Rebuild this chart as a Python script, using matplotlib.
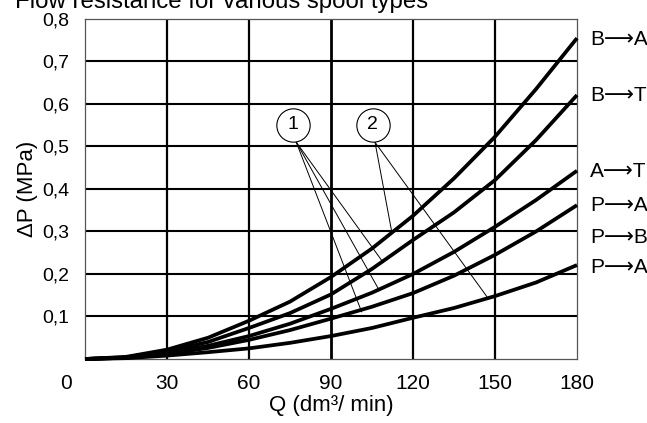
import numpy as np
import matplotlib
matplotlib.use('Agg')
import matplotlib.pyplot as plt
from matplotlib.transforms import ScaledTranslation

plt.rcParams['font.family'] = ['Liberation Sans', 'DejaVu Sans']

# flow (dm3/min) and pressure drop (MPa)
q = [0, 15, 30, 45, 60, 75, 90, 105, 120, 135, 150, 165, 180]
dp_b_a = [0, 0.005, 0.022, 0.05, 0.09, 0.135, 0.193, 0.26, 0.337, 0.425, 0.523, 0.635, 0.755]
dp_b_t = [0, 0.004, 0.018, 0.04, 0.073, 0.108, 0.152, 0.212, 0.28, 0.345, 0.421, 0.515, 0.621]
dp_a_t = [0, 0.003, 0.014, 0.031, 0.054, 0.083, 0.118, 0.156, 0.2, 0.252, 0.311, 0.374, 0.443]
dp_p_ab = [0, 0.003, 0.012, 0.026, 0.045, 0.068, 0.095, 0.123, 0.155, 0.196, 0.245, 0.3, 0.362]
dp_p_a = [0, 0.002, 0.008, 0.016, 0.025, 0.038, 0.054, 0.073, 0.097, 0.12, 0.148, 0.18, 0.221]
curves = [dp_b_a, dp_b_t, dp_a_t, dp_p_ab, dp_p_a]

# labels at the right edge and the pressure they sit at
side_labels = ['B⟶A', 'B⟶T', 'A⟶T', 'P⟶A', 'P⟶B', 'P⟶A']
side_label_p = [0.751, 0.619, 0.44, 0.362, 0.286, 0.215]

xticks = [0, 30, 60, 90, 120, 150, 180]
yticks = [0.1, 0.2, 0.3, 0.4, 0.5, 0.6, 0.7, 0.8]
ytick_labels = ['0,1', '0,2', '0,3', '0,4', '0,5', '0,6', '0,7', '0,8']

# callout bubbles: (label, centre q, centre p, start of leaders, leader ends)
callouts = [
    ('1', 76.0, 0.551, (77.3, 0.51), [(109.1, 0.227), (107.7, 0.161), (101.2, 0.111)]),
    ('2', 105.3, 0.551, (106.1, 0.51), [(112.2, 0.300), (147.0, 0.147)]),
]

fig = plt.figure(figsize=(6.47, 4.23), dpi=100)
ax = fig.add_axes([0.1314, 0.1513, 0.7604, 0.8038])
ax.set_xlim(0, 180)
ax.set_ylim(0, 0.8)

for v in yticks[:-1]:
    ax.axhline(v, color='black', lw=1.5, zorder=1)
for v in xticks[1:-1]:
    ax.axvline(v, color='black', lw=1.6 if v != 90 else 2.0, zorder=1)

for s in ax.spines.values():
    s.set_linewidth(0.9)
    s.set_color('#555555')

for p in curves:
    ax.plot(q, p, color='black', lw=2.7, solid_capstyle='butt',
            solid_joinstyle='round', clip_on=False, zorder=3)

for lab, cx, cy, start, ends in callouts:
    for ex, ey in ends:
        ax.plot([start[0], ex], [start[1], ey], color='black', lw=0.7, zorder=4)
    ax.plot([cx], [cy], 'o', ms=24, mfc='white', mec='black', mew=0.8, zorder=5)
    ax.text(cx, cy, lab, ha='center', va='center', fontsize=14, zorder=6)

for lab, p in zip(side_labels, side_label_p):
    ax.text(184.8, p, lab, ha='left', va='center', fontsize=15, clip_on=False)

ax.set_xticks(xticks)
ax.set_xticklabels([str(v) for v in xticks], fontsize=15)
ax.set_yticks(yticks)
ax.set_yticklabels(ytick_labels, fontsize=14)
ax.tick_params(length=0, pad=11)
lbl0 = ax.get_xticklabels()[0]
lbl0.set_transform(lbl0.get_transform() + ScaledTranslation(-19 / 100, 0, fig.dpi_scale_trans))

ax.set_xlabel('Q (dm³/ min)', fontsize=16, labelpad=1)
ax.set_ylabel('ΔP (MPa)', fontsize=16, labelpad=3)

fig.text(15 / 647, 1 - 8 / 423, 'Flow resistance for various spool types',
         ha='left', va='baseline', fontsize=17.3)

fig.savefig('out.png', dpi=100)
